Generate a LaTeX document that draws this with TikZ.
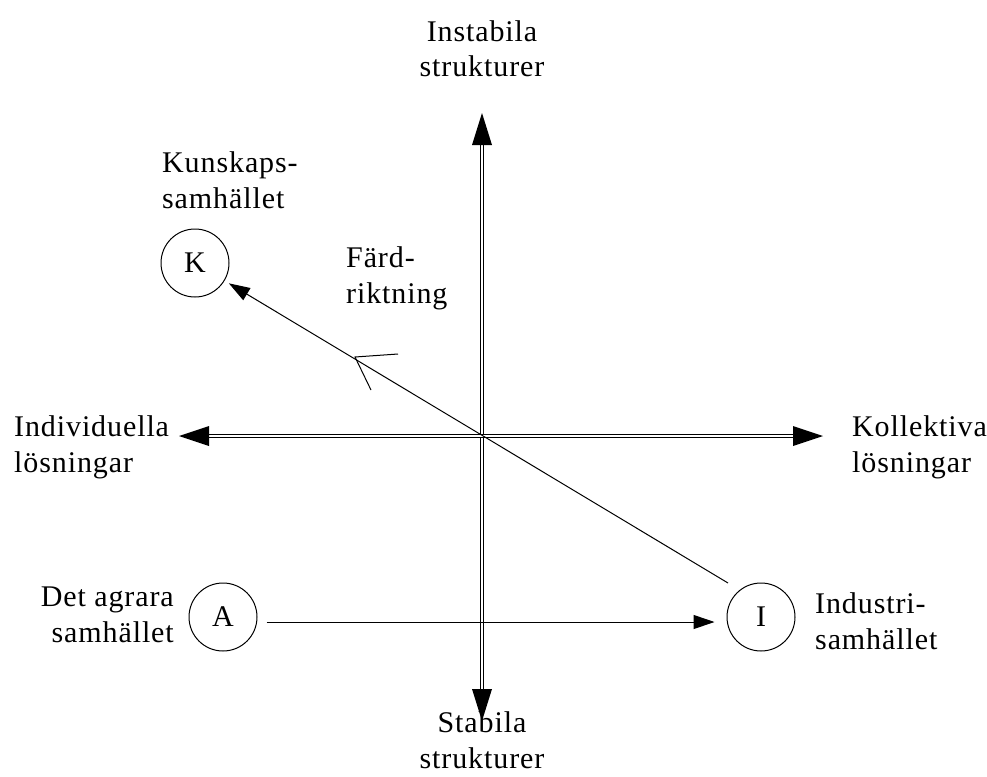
\documentclass[tikz,border=0pt]{standalone}
\usepackage{fontspec}
\setmainfont{Liberation Serif}[LetterSpace=3]
\usetikzlibrary{arrows.meta}
\begin{document}
\begin{tikzpicture}[x=1pt,y=-1pt,
  lbl/.style={font=\fontsize{30}{35.5}\selectfont, inner sep=0pt},
  soc/.style={circle, draw, line width=1pt, minimum size=68pt, inner sep=0pt, font=\fontsize{30}{36}\selectfont},
  axis/.style={draw, line width=0.9pt, double=white, double distance=2pt},
  head/.style={fill=black},
  conn/.style={draw, line width=1pt, -{Triangle[length=21pt,width=14pt]}}
]
\path[use as bounding box] (0,0) rectangle (987,776);

% axes end points
\coordinate (c) at (482,436);
\coordinate (top) at (482,113);
\coordinate (bot) at (482,721);
\coordinate (lft) at (179,436);
\coordinate (rgt) at (823,436);

% double axes
\draw[axis] ([yshift=-30pt]top) -- ([yshift=30pt]bot);
\draw[axis] ([xshift=28pt]lft) -- ([xshift=-28pt]rgt);
% filled heads
\fill[head] (top) -- ([xshift=-10pt,yshift=-32pt]top) -- ([xshift=10pt,yshift=-32pt]top) -- cycle;
\fill[head] (bot) -- ([xshift=-10pt,yshift=32pt]bot) -- ([xshift=10pt,yshift=32pt]bot) -- cycle;
\fill[head] (lft) -- ([xshift=30pt,yshift=10pt]lft) -- ([xshift=30pt,yshift=-10pt]lft) -- cycle;
\fill[head] (rgt) -- ([xshift=-30pt,yshift=10pt]rgt) -- ([xshift=-30pt,yshift=-10pt]rgt) -- cycle;

% axis labels (anchor = baseline of last line)
\node[lbl, align=center, anchor=base] (instab) at (482,77) {Instabila\\strukturer};
\node[lbl, align=center, anchor=base] (stab) at (482,768) {Stabila\\strukturer};
\node[lbl, align=left, anchor=base west] (indiv) at (14,472) {Individuella\\lösningar};
\node[lbl, align=left, anchor=base west] (koll) at (852,472) {Kollektiva\\lösningar};

% societies
\node[soc] (K) at (195,263) {K};
\node[soc] (A) at (223,617) {A};
\node[soc] (I) at (761,617) {I};

\node[lbl, align=left, anchor=base west] (kunsk) at (162,208) {Kunskaps-\\samhället};
\node[lbl, align=right, anchor=base east] (agrar) at (174,642) {Det agrara\\samhället};
\node[lbl, align=left, anchor=base west] (indus) at (815,649) {Industri-\\samhället};
\node[lbl, align=left, anchor=base west] (fard) at (346,303) {Färd-\\riktning};

% connectors
\coordinate (dstart) at (728,583);
\draw[conn, shorten >=5pt] (dstart) -- (K);
\draw[conn, shorten <=9pt, shorten >=12pt] ([yshift=-5pt]A.east) -- ([yshift=-5pt]I.west);

% open direction mark on the diagonal
\coordinate (mv) at (355,357);
\draw[line width=1pt, line join=miter] (398,354) -- (mv) -- (371,390);
\end{tikzpicture}
\end{document}
